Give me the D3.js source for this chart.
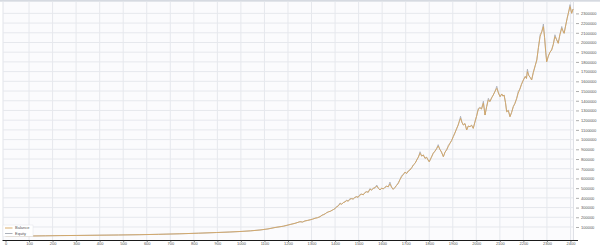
<!DOCTYPE html>
<html><head><meta charset="utf-8">
<script src="https://cdn.jsdelivr.net/npm/d3@7/dist/d3.min.js"></script>
<style>
html,body{margin:0;padding:0;background:#fff;}
svg{display:block;}
text{font-family:"Liberation Sans Narrow","Arial Narrow","Liberation Sans",Arial,sans-serif;}
</style></head>
<body>
<svg id="c" width="600" height="251"></svg>
<script>
const trades = [0,60,111,170,232,300,401,480,571,650,741,820,897,950,996,1040,1081,1115,1145,1180,1209,1230,1251,1262,1272,1284,1294,1305,1315,1326,1336,1345,1352,1358,1364,1372,1380,1388,1394,1400,1407,1414,1421,1428,1435,1442,1449,1456,1463,1470,1477,1484,1491,1498,1506,1513,1520,1527,1534,1541,1548,1555,1562,1570,1577,1584,1591,1598,1605,1612,1619,1626,1633,1640,1647,1654,1661,1669,1676,1683,1690,1697,1704,1711,1718,1726,1733,1740,1747,1754,1761,1768,1775,1782,1789,1795,1800,1808,1817,1824,1831,1838,1845,1852,1860,1867,1874,1881,1888,1895,1902,1909,1916,1923,1928,1933,1939,1945,1952,1959,1966,1973,1980,1987,1994,2001,2008,2015,2022,2030,2037,2044,2051,2058,2065,2072,2080,2087,2094,2101,2108,2113,2118,2124,2129,2136,2143,2150,2157,2164,2171,2178,2185,2192,2200,2208,2213,2217,2223,2229,2235,2242,2250,2257,2264,2271,2278,2285,2290,2295,2299,2306,2313,2320,2327,2334,2341,2348,2355,2363,2368,2373,2380,2386,2391,2398,2405,2411];
const balance = [5000,6000,7200,9000,11300,12800,15400,17500,20600,24500,29900,36000,43000,48000,53500,60000,69000,80000,94700,108000,125600,138000,154500,151000,162000,168000,174000,181000,190000,196000,206000,222000,228000,236000,247000,256000,262000,273000,281000,290000,306000,318000,340000,334000,352000,358000,371000,366000,385000,392000,388000,404000,412000,406000,429000,438000,432000,455000,463000,458000,488000,481000,497000,505000,522000,499000,481000,500000,492000,509000,520000,514000,543000,510000,488000,506000,528000,550000,590000,618000,640000,665000,651000,676000,687000,712000,740000,756000,790000,820000,859000,830000,842000,807000,818000,790000,772000,812000,859000,880000,905000,934000,900000,872000,824000,870000,895000,927000,962000,990000,1030000,1068000,1110000,1150000,1190000,1219000,1178000,1150000,1165000,1099000,1140000,1133000,1148000,1116000,1180000,1240000,1305000,1330000,1315000,1374000,1253000,1340000,1408000,1392000,1430000,1459000,1500000,1528000,1480000,1442000,1470000,1448000,1459000,1380000,1287000,1300000,1236000,1280000,1339000,1372000,1420000,1477000,1520000,1570000,1614000,1650000,1630000,1699000,1660000,1640000,1614000,1690000,1760000,1820000,1950000,2060000,2110000,2163000,2050000,1900000,1802000,1860000,1900000,1923000,1980000,2060000,2030000,1992000,2080000,2146000,2120000,2095000,2180000,2250000,2301000,2369000,2301000,2345000];
const equity = [5000,6000,7200,9000,11300,12800,15400,17500,20600,24500,29900,36000,43000,48000,53500,60000,69000,80000,94700,108000,125600,138000,154500,151000,162000,168000,174000,181000,190000,196000,206000,222000,228000,236000,247000,256000,262000,273000,281000,290000,312000,318000,348000,334000,352000,358000,378000,366000,392000,392000,388000,404000,412000,406000,436000,438000,432000,455000,463000,458000,496000,481000,497000,505000,532000,499000,481000,500000,492000,509000,520000,514000,562000,510000,488000,506000,528000,558000,590000,630000,640000,665000,651000,676000,687000,712000,740000,756000,790000,820000,875000,830000,842000,807000,818000,790000,772000,812000,859000,880000,905000,948000,900000,872000,824000,870000,895000,940000,962000,990000,1030000,1068000,1110000,1150000,1190000,1240000,1178000,1150000,1165000,1099000,1140000,1133000,1148000,1116000,1180000,1240000,1320000,1330000,1315000,1395000,1253000,1340000,1425000,1392000,1430000,1459000,1500000,1550000,1480000,1442000,1470000,1448000,1459000,1380000,1287000,1300000,1236000,1280000,1339000,1372000,1420000,1495000,1520000,1570000,1614000,1650000,1630000,1725000,1660000,1640000,1614000,1690000,1760000,1820000,1950000,2080000,2110000,2190000,2050000,1900000,1802000,1860000,1900000,1923000,1980000,2080000,2030000,1992000,2080000,2165000,2120000,2095000,2180000,2250000,2301000,2390000,2301000,2345000];
const xTicks = d3.range(0, 2401, 100);
const yTicks = d3.range(100000, 2300001, 100000);
const legendLabels = ["Balance","Equity"];
const colors = {balance:"#d6a45c", equity:"#a4a8b2"};

const svg = d3.select("#c");
const x = d3.scaleLinear().domain([0, 2412]).range([5.5, 573.3]);
const y = d3.scaleLinear().domain([-34000, 2417000]).range([240, 2]);

svg.append("rect").attr("x",3).attr("y",2).attr("width",570.5).attr("height",238).attr("fill","#fbfbfd");
svg.append("rect").attr("x",0).attr("y",0).attr("width",600).attr("height",1.7).attr("fill","#d6dae1");
svg.append("line").attr("x1",3).attr("x2",3).attr("y1",2).attr("y2",240).attr("stroke","#e2e4ea").attr("stroke-width",1);

svg.append("g").selectAll("line").data(xTicks.filter(d=>d>0)).join("line")
  .attr("x1",d=>x(d)).attr("x2",d=>x(d)).attr("y1",2).attr("y2",240)
  .attr("stroke","#e6e8ed").attr("stroke-width",1);
svg.append("g").selectAll("line").data(yTicks).join("line")
  .attr("x1",3).attr("x2",573.5).attr("y1",d=>y(d)).attr("y2",d=>y(d))
  .attr("stroke","#e6e8ed").attr("stroke-width",1);
svg.append("line").attr("x1",573.5).attr("x2",573.5).attr("y1",2).attr("y2",240).attr("stroke","#dfe1e7");

const n = Math.min(trades.length, balance.length, equity.length);
const pts = (vals)=>trades.slice(0,n).map((t,i)=>[t, vals[i]]);
const line = d3.line().x(d=>x(d[0])).y(d=>y(d[1])).curve(d3.curveLinear);
svg.append("path").attr("d", line(pts(equity))).attr("fill","none").attr("stroke",colors.equity).attr("stroke-width",0.8).attr("stroke-linejoin","round");
svg.append("path").attr("d", line(pts(balance))).attr("fill","none").attr("stroke",colors.balance).attr("stroke-width",0.85).attr("stroke-linejoin","round");

const xAxis = d3.axisBottom(x).tickValues(xTicks).tickSize(2).tickPadding(0.5).tickFormat(d3.format("d"));
const gx = svg.append("g").attr("transform","translate(0,240)").call(xAxis);
gx.attr("font-family",null).attr("font-size",null);
gx.select(".domain").attr("d","M2.5,0.5H578").attr("stroke","#1a1a1a").attr("stroke-width",1.2);
gx.selectAll(".tick line").attr("stroke","#333").attr("stroke-width",0.6);
gx.selectAll(".tick text").attr("font-size",4).attr("fill","#555");

const yAxis = d3.axisRight(y).tickValues(yTicks).tickSize(3).tickPadding(2).tickFormat(d3.format("d"));
const gy = svg.append("g").attr("transform","translate(576,0)").call(yAxis);
gy.attr("font-family",null).attr("font-size",null);
gy.select(".domain").remove();
gy.selectAll(".tick line").attr("stroke","#777").attr("stroke-width",0.6);
gy.selectAll(".tick text").attr("font-size",4).attr("fill","#555");

const lg = svg.append("g").attr("transform","translate(3,225)");
lg.append("rect").attr("width",30).attr("height",11.5).attr("fill","#fff").attr("stroke","#e2e4ea").attr("stroke-width",0.5);
legendLabels.forEach((lab,i)=>{
  const yy = 3 + i*5.5;
  lg.append("line").attr("x1",2).attr("x2",9.5).attr("y1",yy).attr("y2",yy)
    .attr("stroke", i===0?colors.balance:colors.equity).attr("stroke-width",0.9);
  lg.append("text").attr("x",12).attr("y",yy).attr("dy","0.35em").attr("font-size",4).attr("fill","#555").text(lab);
});
</script>
</body></html>
